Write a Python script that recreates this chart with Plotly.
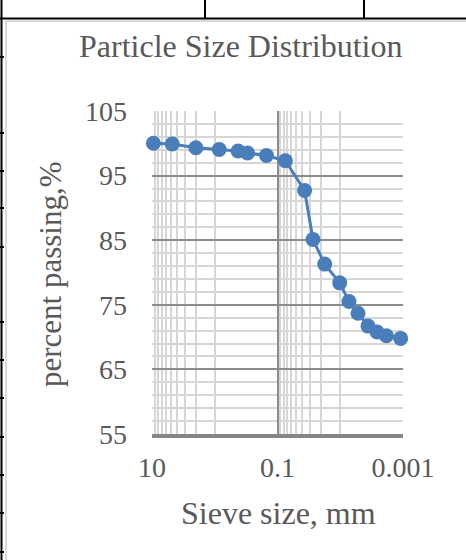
import plotly.graph_objects as go

# ---- data ----
sieve_size_mm = [9.5, 4.75, 2.0, 0.85, 0.425, 0.3, 0.15, 0.075,
                 0.037, 0.0272, 0.0177, 0.0102, 0.00726, 0.00521,
                 0.00361, 0.00259, 0.00184, 0.00109]
percent_passing = [100.0, 99.9, 99.3, 99.05, 98.8, 98.5, 98.1, 97.3,
                   92.7, 85.1, 81.3, 78.4, 75.5, 73.7,
                   71.7, 70.8, 70.2, 69.8]
x_tick_vals = [10, 0.1, 0.001]
x_tick_text = ["10", "0.1", "0.001"]
x_minor_vals = [1, 2, 3, 4, 5, 6, 7, 8, 9,
                0.01, 0.02, 0.03, 0.04, 0.05, 0.06, 0.07, 0.08, 0.09]
y_tick_vals = [55, 65, 75, 85, 95, 105]

# ---- geometry ----
WIDTH, HEIGHT = 466, 560
L, R, T, B = 152, 63, 111, 126
PW = WIDTH - L - R
PH = HEIGHT - T - B


def px(X):
    return (X - L) / PW


def py(Y):
    return (HEIGHT - B - Y) / PH


TEXT = "#595959"
FONT = "Liberation Serif"

fig = go.Figure()
fig.add_trace(go.Scatter(
    x=sieve_size_mm, y=percent_passing, mode="lines+markers",
    line=dict(color="#4a7ebb", width=3),
    marker=dict(color="#4a7ebb", size=15),
    cliponaxis=False, showlegend=False, hoverinfo="skip",
))

shapes = []
# chart frame (light gray)
shapes.append(dict(type="rect", xref="paper", yref="paper",
                   x0=px(6), x1=px(470), y0=py(21), y1=py(566),
                   line=dict(color="#d9d9d9", width=2), layer="below"))
# document table lines (black)
blk = dict(color="black", width=2)
shapes.append(dict(type="line", xref="paper", yref="paper",
                   x0=px(0), x1=px(466), y0=py(18.5), y1=py(18.5), line=blk))
shapes.append(dict(type="line", xref="paper", yref="paper",
                   x0=px(1.5), x1=px(1.5), y0=py(0), y1=py(560), line=blk))
for xv in [205, 364]:
    shapes.append(dict(type="line", xref="paper", yref="paper",
                       x0=px(xv), x1=px(xv), y0=py(0), y1=py(18.5), line=blk))
for yv in [57, 133, 171, 208, 247, 322, 360, 398, 437, 475, 513, 552]:
    shapes.append(dict(type="line", xref="paper", yref="paper",
                       x0=px(0), x1=px(4), y0=py(yv), y1=py(yv), line=blk))

annotations = [
    dict(text="Particle Size Distribution", xref="paper", yref="paper",
         x=px(241), y=py(46), showarrow=False, xanchor="center", yanchor="middle",
         font=dict(family=FONT, size=32, color=TEXT)),
    dict(text="Sieve size, mm", xref="paper", yref="paper",
         x=px(278), y=py(513), showarrow=False, xanchor="center", yanchor="middle",
         font=dict(family=FONT, size=32, color=TEXT)),
    dict(text="percent passing,%", xref="paper", yref="paper",
         x=px(50), y=py(274), showarrow=False, xanchor="center", yanchor="middle",
         textangle=-90, font=dict(family=FONT, size=31, color=TEXT)),
]

fig.update_layout(
    width=WIDTH, height=HEIGHT,
    margin=dict(l=L, r=R, t=T, b=B, pad=0),
    paper_bgcolor="white", plot_bgcolor="white",
    font=dict(family=FONT, color=TEXT, size=28),
    shapes=shapes, annotations=annotations,
    xaxis=dict(
        type="log", range=[1, -3.0], tickmode="array",
        tickvals=x_tick_vals, ticktext=x_tick_text,
        showgrid=True, gridcolor="#8c8c8c", gridwidth=1.5,
        showline=True, linecolor="#868686", linewidth=4,
        ticks="", ticklabelstandoff=5, zeroline=False,
        tickfont=dict(family=FONT, size=28, color=TEXT),
        minor=dict(tickmode="array", tickvals=x_minor_vals,
                   showgrid=True, gridcolor="#d6d6d6", gridwidth=1.5, ticks=""),
        mirror=False,
    ),
    yaxis=dict(
        range=[55, 105], tickmode="array", tickvals=y_tick_vals,
        showgrid=True, gridcolor="#8c8c8c", gridwidth=1.5,
        showline=False, zeroline=False, ticks="",
        ticklabelstandoff=24,
        tickfont=dict(family=FONT, size=28, color=TEXT),
        minor=dict(dtick=2, tick0=55, showgrid=True,
                   gridcolor="#d6d6d6", gridwidth=1.5, ticks=""),
    ),
)

fig.write_html("out.html",
               config={"displayModeBar": False},
               post_script="document.body.style.margin='0';"
                           "document.body.style.overflow='hidden';")
